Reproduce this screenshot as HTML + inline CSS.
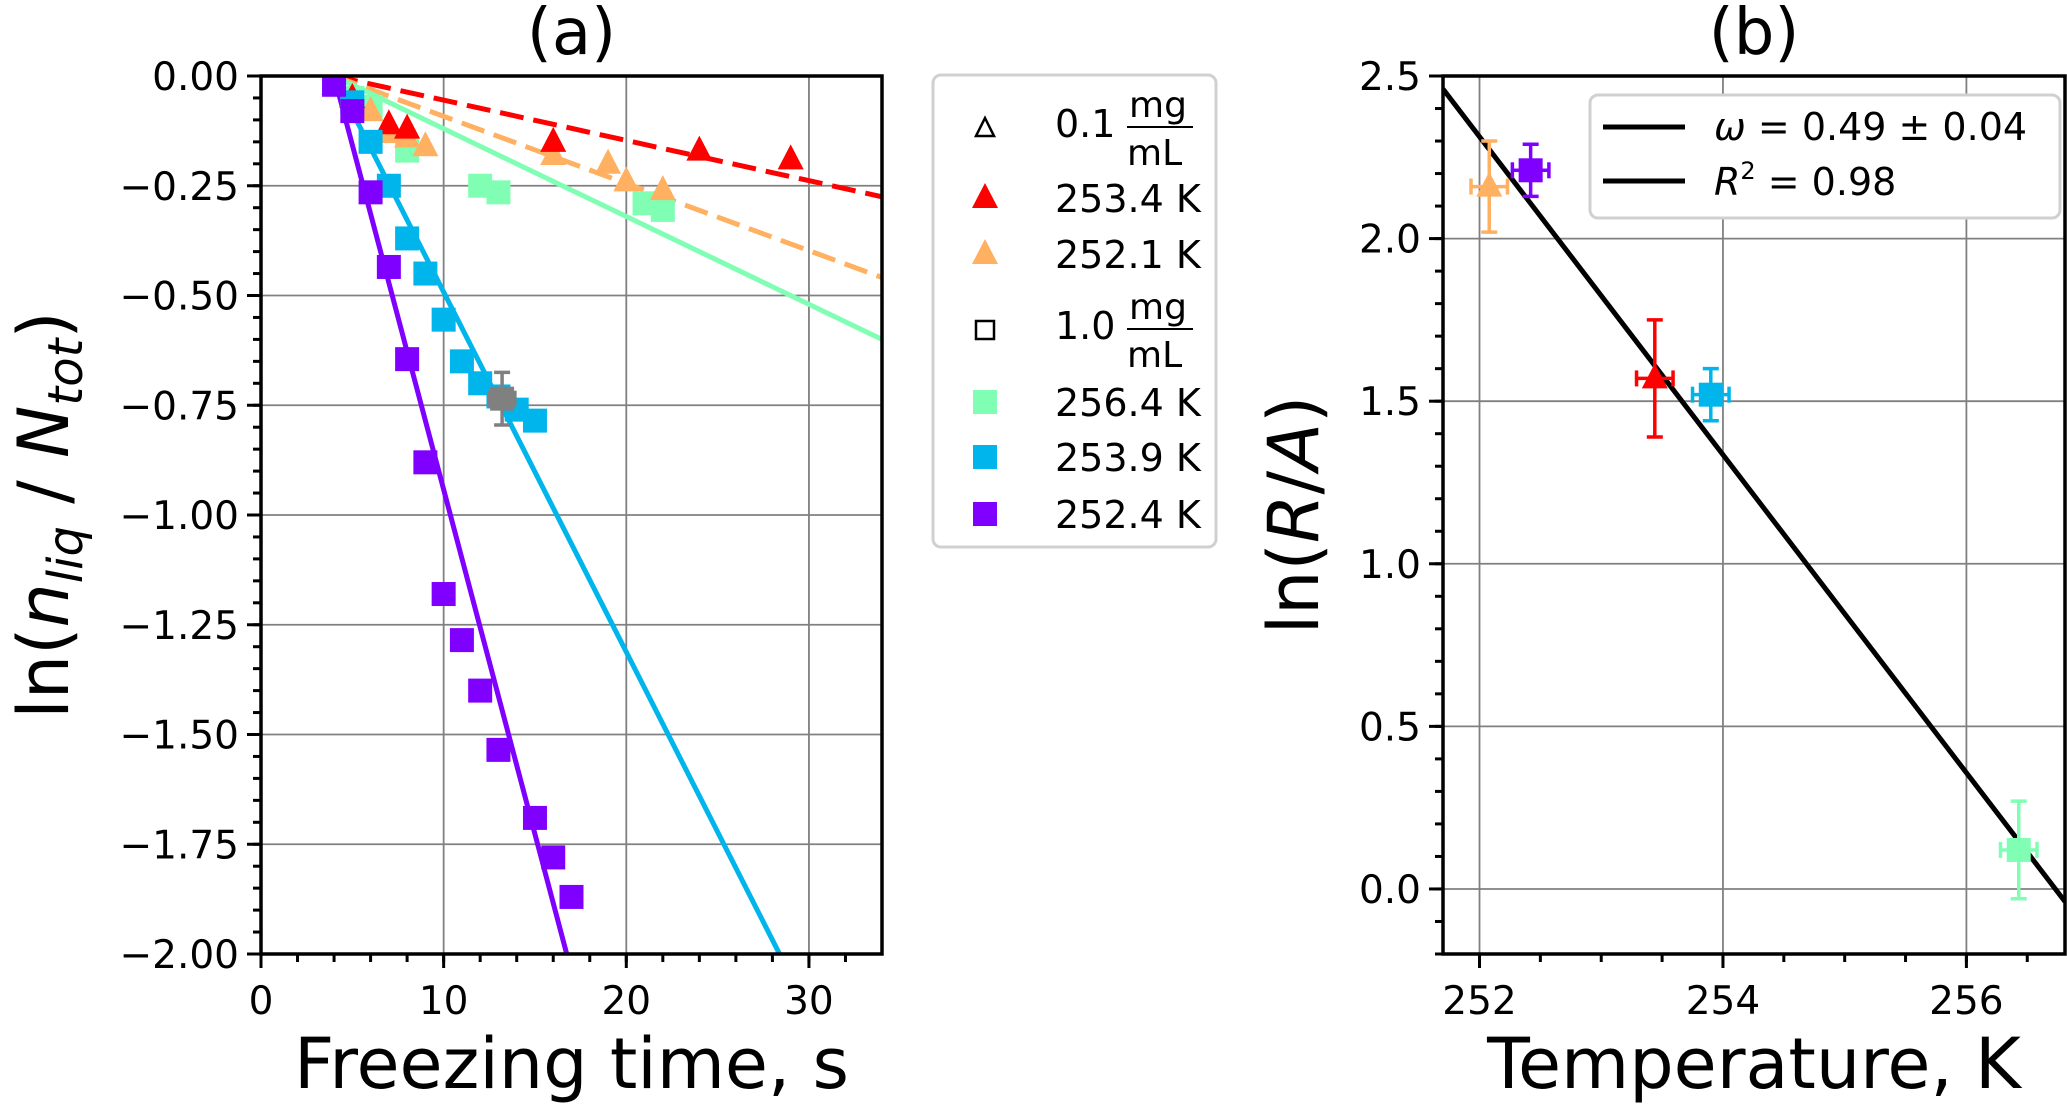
<!DOCTYPE html>
<html><head><meta charset="utf-8"><style>
html,body{margin:0;padding:0;background:#fff;overflow:hidden;width:2067px;height:1108px}
svg{display:block;font-family:"DejaVu Sans","Liberation Sans",sans-serif}
</style></head><body>
<svg id="fig" width="2067" height="1108" viewBox="0 0 2067 1108"></svg>
<script>
// ---- Panel (a) data ----
const aRedT=[5,7,8,16,24,29];
const aRedY=[-0.05,-0.11,-0.12,-0.15,-0.17,-0.19];
const aOrgT=[4,6,7,8,9,16,19,20,22];
const aOrgY=[-0.02,-0.08,-0.13,-0.14,-0.16,-0.18,-0.2,-0.24,-0.26];
const aGrnT=[5,6,8,12,13,21,22];
const aGrnY=[-0.05,-0.07,-0.17,-0.25,-0.265,-0.29,-0.305];
const aBluT=[4,5,6,7,8,9,10,11,12,13,14,15];
const aBluY=[-0.01,-0.06,-0.15,-0.25,-0.37,-0.45,-0.555,-0.65,-0.70,-0.73,-0.76,-0.785];
const aPurT=[4,5,6,7,8,9,10,11,12,13,15,16,17];
const aPurY=[-0.02,-0.08,-0.265,-0.435,-0.645,-0.88,-1.18,-1.285,-1.40,-1.535,-1.69,-1.78,-1.87];
const aSlopes=[-0.00917,-0.0153,-0.02,-0.082,-0.157]; // red, orange, green, blue, purple fits from t0=4
const aGray=[13.2,-0.735,0.7,0.06];
const aXTicks=[0,10,20,30];
const aYTicks=[0,-0.25,-0.5,-0.75,-1,-1.25,-1.5,-1.75,-2];
// ---- Panel (b) data ----
const bT=[252.08,252.42,253.44,253.9,256.43];
const bY=[2.16,2.21,1.57,1.52,0.12];
const bYErr=[0.14,0.08,0.18,0.08,0.15];
const bXErr=[0.15,0.15,0.15,0.15,0.15];
const bFit=[2.46,-0.489]; // value at 251.7, slope
const bXTicks=[252,254,256];
const bYTicks=[0,0.5,1,1.5,2,2.5];

const NS="http://www.w3.org/2000/svg";
const svg=document.getElementById('fig');
function el(tag,at,parent){const e=document.createElementNS(NS,tag);for(const k in at)e.setAttribute(k,at[k]);(parent||svg).appendChild(e);return e;}
function txt(s,at,parent){const e=el('text',at,parent);e.textContent=s;return e;}

const A={l:261,r:882,t:76,b:954,x0:0,x1:34,y0:-2,y1:0};
const B={l:1443,r:2065,t:76,b:954,x0:251.7,x1:256.81,y0:-0.2,y1:2.5};
function sx(ax,v){return ax.l+(v-ax.x0)/(ax.x1-ax.x0)*(ax.r-ax.l);}
function sy(ax,v){return ax.b-(v-ax.y0)/(ax.y1-ax.y0)*(ax.b-ax.t);}

function frame(ax,name,xt,yt,xfmt,yfmt,xminor,yminor){
  const g=el('g',{});
  
  
  const grid=el('g',{stroke:'#808080','stroke-width':1.8},g);
  xt.forEach(v=>{if(v>ax.x0&&v<ax.x1)el('line',{x1:sx(ax,v),x2:sx(ax,v),y1:ax.t,y2:ax.b},grid);});
  yt.forEach(v=>{if(v>ax.y0&&v<ax.y1)el('line',{x1:ax.l,x2:ax.r,y1:sy(ax,v),y2:sy(ax,v)},grid);});
  const tk=el('g',{stroke:'#000','stroke-width':3},g);
  xt.forEach(v=>{const x=sx(ax,v);el('line',{x1:x,x2:x,y1:ax.b,y2:ax.b+14},tk);
    const t=txt(xfmt(v),{x:x,y:ax.b+60,'font-size':39,'text-anchor':'middle',fill:'#000',stroke:'none'},g);
    });
  yt.forEach(v=>{const y=sy(ax,v);el('line',{x1:ax.l-14,x2:ax.l,y1:y,y2:y},tk);
    const t=txt(yfmt(v),{x:ax.l-22,y:y+14,'font-size':39,'text-anchor':'end',fill:'#000',stroke:'none'},g);
    });
  for(let v=ax.x0-(ax.x0%xminor)+xminor;v<ax.x1;v+=xminor){const x=sx(ax,v);el('line',{x1:x,x2:x,y1:ax.b,y2:ax.b+8},tk);}
  for(let v=Math.ceil(ax.y0/yminor-1e-6)*yminor;v<ax.y1;v+=yminor){const y=sy(ax,v);el('line',{x1:ax.l-8,x2:ax.l,y1:y,y2:y},tk);}
  return g;
}
function sq(x,y,c,p,nm){const r=el('rect',{x:x-12,y:y-12,width:24,height:24,fill:c},p);return r;}
function tri(x,y,c,p,nm){const r=el('polygon',{points:`${x},${y-15} ${x+13},${y+10} ${x-13},${y+10}`,fill:c},p);return r;}
function errbar(x,y,dx,dy,c,p){const g=el('g',{stroke:c,'stroke-width':3.5},p);
  el('line',{x1:x,x2:x,y1:y-dy,y2:y+dy},g);el('line',{x1:x-dx,x2:x+dx,y1:y,y2:y},g);
  [[x-8,x+8,y-dy,y-dy],[x-8,x+8,y+dy,y+dy]].forEach(a=>el('line',{x1:a[0],x2:a[1],y1:a[2],y2:a[3]},g));
  [[x-dx,x-dx,y-8,y+8],[x+dx,x+dx,y-8,y+8]].forEach(a=>el('line',{x1:a[0],x2:a[1],y1:a[2],y2:a[3]},g));}

// ---- Panel a ----
frame(A,'panel-a',aXTicks,aYTicks,v=>String(v),v=>(v<0?'\u2212':'')+Math.abs(v).toFixed(2),2,0.05);
const colors=['#ff0000','#ffb060','#80ffb4','#00b4ec','#8000ff'];
const dashed=[true,true,false,false,false];
const clipA=el('clipPath',{id:'ca'});el('rect',{x:A.l,y:A.t,width:A.r-A.l,height:A.b-A.t},clipA);
const gA=el('g',{'clip-path':'url(#ca)'});

aSlopes.forEach((s,i)=>{const t1=34;const l=el('line',{x1:sx(A,4),y1:sy(A,0),x2:sx(A,t1),y2:sy(A,s*(t1-4)),stroke:colors[i],'stroke-width':5,'stroke-dasharray':dashed[i]?'24,10':'none'},gA);
  });
aGrnT.forEach((t,i)=>sq(sx(A,t),sy(A,aGrnY[i]),colors[2],gA,'point-256-4K'));
aOrgT.forEach((t,i)=>tri(sx(A,t),sy(A,aOrgY[i]),colors[1],gA,'point-252-1K'));
aRedT.forEach((t,i)=>tri(sx(A,t),sy(A,aRedY[i]),colors[0],gA,'point-253-4K'));
aBluT.forEach((t,i)=>sq(sx(A,t),sy(A,aBluY[i]),colors[3],gA,'point-253-9K'));
aPurT.forEach((t,i)=>sq(sx(A,t),sy(A,aPurY[i]),colors[4],gA,'point-252-4K'));
{const x=sx(A,aGray[0]),y=sy(A,aGray[1]);errbar(x,y,aGray[2]*(A.r-A.l)/34,aGray[3]*(A.b-A.t)/2,'#808080',gA);sq(x,y,'#808080',gA,'mean-point');}
el('rect',{x:A.l,y:A.t,width:A.r-A.l,height:A.b-A.t,fill:'none',stroke:'#000','stroke-width':3.5});
{const t=txt('(a)',{x:(A.l+A.r)/2,y:54,'font-size':64,'text-anchor':'middle'});}
{const t=txt('Freezing time, s',{x:(A.l+A.r)/2,y:1088,'font-size':70,'text-anchor':'middle'});}
{const t=el('text',{transform:'translate(68,515) rotate(-90)','font-size':70,'text-anchor':'middle'});
 
 t.innerHTML='ln(<tspan font-style="italic">n</tspan><tspan font-style="italic" font-size="48" dy="14">liq</tspan><tspan dy="-14"> / </tspan><tspan font-style="italic">N</tspan><tspan font-style="italic" font-size="48" dy="14">tot</tspan><tspan dy="-14">)</tspan>';}

// legend a
const lg=el('g',{});
el('rect',{x:933,y:75,width:283,height:472,rx:8,fill:'#fff',stroke:'#d0d0d0','stroke-width':3},lg);
function frac(x,y,num){txt(num,{x:x,y:y+12,'font-size':38},lg);txt('mg',{x:x+74,y:y-8,'font-size':36},lg);el('line',{x1:x+72,x2:x+138,y1:y+2,y2:y+2,stroke:'#000','stroke-width':2},lg);txt('mL',{x:x+72,y:y+40,'font-size':36},lg);}
el('polygon',{points:'985,118 994,136 976,136',fill:'none',stroke:'#000','stroke-width':2.5},lg);frac(1055,125,'0.1');
tri(985,198,colors[0],lg,'legend-marker-253-4K');txt('253.4 K',{x:1055,y:212,'font-size':38},lg);
tri(985,254,colors[1],lg,'legend-marker-252-1K');txt('252.1 K',{x:1055,y:268,'font-size':38},lg);
el('rect',{x:976,y:321,width:18,height:18,fill:'none',stroke:'#000','stroke-width':2.5},lg);frac(1055,327,'1.0');
sq(985,402,colors[2],lg,'legend-marker-256-4K');txt('256.4 K',{x:1055,y:416,'font-size':38},lg);
sq(985,457,colors[3],lg,'legend-marker-253-9K');txt('253.9 K',{x:1055,y:471,'font-size':38},lg);
sq(985,514,colors[4],lg,'legend-marker-252-4K');txt('252.4 K',{x:1055,y:528,'font-size':38},lg);

// ---- Panel b ----
frame(B,'panel-b',bXTicks,bYTicks,v=>String(v),v=>v.toFixed(1),0.5,0.1);
const clipB=el('clipPath',{id:'cb'});el('rect',{x:B.l,y:B.t,width:B.r-B.l,height:B.b-B.t},clipB);
const gB=el('g',{'clip-path':'url(#cb)'});

{const l=el('line',{x1:sx(B,251.7),y1:sy(B,bFit[0]),x2:sx(B,256.81),y2:sy(B,bFit[0]+bFit[1]*(256.81-251.7)),stroke:'#000','stroke-width':5},gB);
 }
const bCol=[colors[1],colors[4],colors[0],colors[3],colors[2]];
const bTri=[true,false,true,false,false];
bT.forEach((t,i)=>{const x=sx(B,t),y=sy(B,bY[i]);
  errbar(x,y,bXErr[i]*(B.r-B.l)/(B.x1-B.x0),bYErr[i]*(B.b-B.t)/(B.y1-B.y0),bCol[i],gB);
  (bTri[i]?tri:sq)(x,y,bCol[i],gB,'rate-point');});
el('rect',{x:B.l,y:B.t,width:B.r-B.l,height:B.b-B.t,fill:'none',stroke:'#000','stroke-width':3.5});
{const t=txt('(b)',{x:(B.l+B.r)/2,y:54,'font-size':64,'text-anchor':'middle'});}
{const t=txt('Temperature, K',{x:(B.l+B.r)/2,y:1088,'font-size':70,'text-anchor':'middle'});}
{const t=el('text',{transform:'translate(1318,515) rotate(-90)','font-size':70,'text-anchor':'middle'});
 
 t.innerHTML='ln(<tspan font-style="italic">R</tspan>/<tspan font-style="italic">A</tspan>)';}
const lb=el('g',{});
el('rect',{x:1590,y:95,width:470,height:123,rx:8,fill:'#fff',stroke:'#d0d0d0','stroke-width':3},lb);
el('line',{x1:1603,x2:1685,y1:127,y2:127,stroke:'#000','stroke-width':5},lb);
el('line',{x1:1603,x2:1685,y1:181,y2:181,stroke:'#000','stroke-width':5},lb);
{const t=el('text',{x:1714,y:140,'font-size':38},lb);t.innerHTML='<tspan font-style="italic">ω</tspan> = 0.49 ± 0.04';}
{const t=el('text',{x:1714,y:195,'font-size':38},lb);t.innerHTML='<tspan font-style="italic">R</tspan><tspan font-size="24" dy="-16">2</tspan><tspan dy="16"> = 0.98</tspan>';}
</script>
</body></html>
